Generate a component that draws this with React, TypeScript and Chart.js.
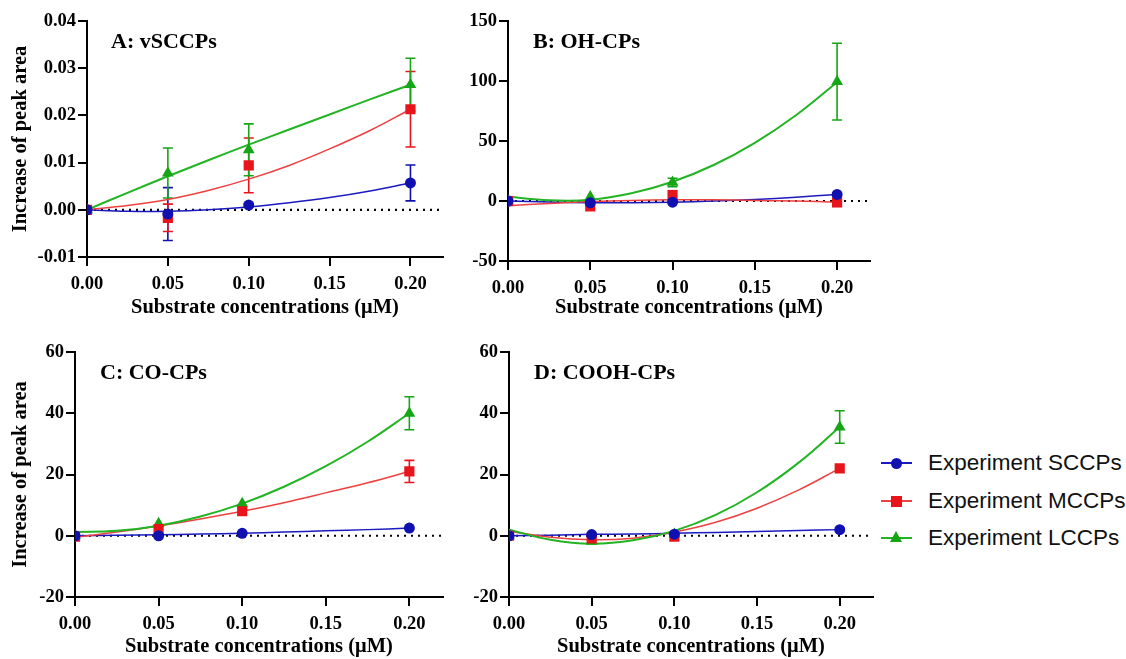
import React, { useEffect, useRef } from "react";
import { Chart, registerables } from "chart.js";
Chart.register(...registerables);

// ---------- shared values ----------
const concentrations = [0, 0.05, 0.1, 0.2];
const fitConcentrations = [0, 0.025, 0.05, 0.075, 0.1, 0.125, 0.15, 0.175, 0.2];
const xTickValues = [0, 0.05, 0.1, 0.15, 0.2];
const xMax = 0.22;
const seriesNames = ["Experiment SCCPs", "Experiment MCCPs", "Experiment LCCPs"];
const xTitle = "Substrate concentrations (μM)";
const yTitle = "Increase of peak area";

// ---------- Panel A: vSCCPs ----------
const aSCCPs = [0, -0.0009, 0.001, 0.0057];
const aSCCPsErr = [0, 0.0056, 0.0003, 0.0038];
const aMCCPs = [0, -0.0017, 0.0094, 0.0213];
const aMCCPsErr = [0, 0.0029, 0.0058, 0.008];
const aLCCPs = [0, 0.0078, 0.0127, 0.0265];
const aLCCPsErr = [0, 0.0053, 0.0055, 0.0056];
const aFitSCCPs = [0, -0.0003, -0.0003, 0.0, 0.0006, 0.0015, 0.0026, 0.004, 0.0057];
const aFitMCCPs = [0, 0.0009, 0.0022, 0.0041, 0.0065, 0.0094, 0.0129, 0.0168, 0.0213];
const aFitLCCPs = [0, 0.0036, 0.0071, 0.0105, 0.0138, 0.017, 0.0202, 0.0234, 0.0265];
const aYTicks = [-0.01, 0, 0.01, 0.02, 0.03, 0.04];

// ---------- Panel B: OH-CPs ----------
const bSCCPs = [0, -1.5, -1, 5.5];
const bSCCPsErr = [0, 0, 0, 0];
const bMCCPs = [0, -4.5, 5, -1.2];
const bMCCPsErr = [0, 0, 0, 0];
const bLCCPs = [0, 3.5, 15.5, 99.5];
const bLCCPsErr = [0, 0, 3.5, 32];
const bFitSCCPs = [0, -0.9, -1.4, -1.4, -1, -0.1, 1.3, 3.2, 5.5];
const bFitMCCPs = [-4, -2, -0.5, 0.5, 1, 1, 0.5, 0, -1];
const bFitLCCPs = [3.5, 0.6, 1, 6.4, 16, 30, 48.5, 71.5, 99];
const bYTicks = [-50, 0, 50, 100, 150];

// ---------- Panel C: CO-CPs ----------
const cSCCPs = [0, 0, 0.8, 2.5];
const cSCCPsErr = [0, 0, 0, 0];
const cMCCPs = [-0.3, 2.2, 8, 21];
const cMCCPsErr = [0, 0, 0, 3.6];
const cLCCPs = [0, 4, 10.5, 40];
const cLCCPsErr = [0, 0, 0, 5.4];
const cFitSCCPs = [0, 0.15, 0.3, 0.55, 0.85, 1.2, 1.6, 2.0, 2.5];
const cFitMCCPs = [-0.5, 1.2, 3.2, 5.5, 8, 10.8, 14, 17.3, 21];
const cFitLCCPs = [1.2, 1.6, 3.3, 6.3, 10.5, 16, 22.7, 30.7, 40];
const cYTicks = [-20, 0, 20, 40, 60];

// ---------- Panel D: COOH-CPs ----------
const dSCCPs = [0, 0.4, 0.5, 2];
const dSCCPsErr = [0, 0, 0, 0];
const dMCCPs = [0, -0.9, -0.3, 22];
const dMCCPsErr = [0, 0, 0, 0];
const dLCCPs = [0, -1.8, 0.5, 35.5];
const dLCCPsErr = [0, 0, 0, 5.3];
const dFitSCCPs = [0, 0.2, 0.45, 0.6, 0.8, 1.1, 1.4, 1.7, 2];
const dFitMCCPs = [1.5, -0.5, -1.3, -0.8, 1.2, 4.4, 9, 14.9, 22];
const dFitLCCPs = [2, -1.3, -2.6, -1.5, 1.6, 6.8, 14.2, 23.8, 35.5];
const dYTicks = [-20, 0, 20, 40, 60];

// ---------- styles ----------
const BLUE = "#1010b0";
const RED = "#e8141c";
const GREEN = "#15a515";
const seriesColors = [BLUE, RED, GREEN];
const fitColors = ["#1a1ac0", "#ee4040", "#22b422"];
const fitWidths = [1.5, 1.5, 2];
const pointStyles = ["circle", "rect", "triangle"];
const pointRadii = [5.5, 7.2, 6.8];
const SERIF = "'Liberation Serif', 'Times New Roman', serif";
const SANS = "'Liberation Sans', Arial, sans-serif";

type PanelDef = {
  label: string;
  left: number;
  top: number;
  width: number;
  height: number;
  yAxisWidth: number;
  xAxisHeight: number;
  padTop: number;
  padRight: number;
  titleX: number;
  titleY: number;
  showYTitle: boolean;
  yTicks: number[];
  yDecimals: number;
  means: number[][];
  errors: number[][];
  fits: number[][];
};

const panels: PanelDef[] = [
  {
    label: "A: vSCCPs", left: 0, top: 0, width: 450, height: 320,
    yAxisWidth: 87, xAxisHeight: 63, padTop: 21, padRight: 7,
    titleX: 111, titleY: 42, showYTitle: true, yTicks: aYTicks, yDecimals: 2,
    means: [aSCCPs, aMCCPs, aLCCPs], errors: [aSCCPsErr, aMCCPsErr, aLCCPsErr],
    fits: [aFitSCCPs, aFitMCCPs, aFitLCCPs],
  },
  {
    label: "B: OH-CPs", left: 430, top: 0, width: 450, height: 320,
    yAxisWidth: 78, xAxisHeight: 59, padTop: 21, padRight: 10,
    titleX: 103, titleY: 42, showYTitle: false, yTicks: bYTicks, yDecimals: 0,
    means: [bSCCPs, bMCCPs, bLCCPs], errors: [bSCCPsErr, bMCCPsErr, bLCCPsErr],
    fits: [bFitSCCPs, bFitMCCPs, bFitLCCPs],
  },
  {
    label: "C: CO-CPs", left: 0, top: 320, width: 450, height: 339,
    yAxisWidth: 75, xAxisHeight: 62, padTop: 32, padRight: 5,
    titleX: 100, titleY: 53, showYTitle: true, yTicks: cYTicks, yDecimals: 0,
    means: [cSCCPs, cMCCPs, cLCCPs], errors: [cSCCPsErr, cMCCPsErr, cLCCPsErr],
    fits: [cFitSCCPs, cFitMCCPs, cFitLCCPs],
  },
  {
    label: "D: COOH-CPs", left: 430, top: 320, width: 450, height: 339,
    yAxisWidth: 79, xAxisHeight: 62, padTop: 32, padRight: 2,
    titleX: 104, titleY: 53, showYTitle: false, yTicks: dYTicks, yDecimals: 0,
    means: [dSCCPs, dMCCPs, dLCCPs], errors: [dSCCPsErr, dMCCPsErr, dLCCPsErr],
    fits: [dFitSCCPs, dFitMCCPs, dFitLCCPs],
  },
];

const errorBarPlugin = {
  id: "errorBars",
  beforeDatasetsDraw(chart: any, _args: any, opts: any) {
    const { ctx } = chart;
    const x = chart.scales.x;
    const y = chart.scales.y;
    ctx.save();
    opts.sets.forEach((s: any) => {
      ctx.strokeStyle = s.color;
      ctx.lineWidth = 1.6;
      s.values.forEach((v: number, i: number) => {
        const e = s.errors[i];
        if (!e) return;
        const px = x.getPixelForValue(concentrations[i]);
        const t = y.getPixelForValue(v + e);
        const b = y.getPixelForValue(v - e);
        ctx.beginPath();
        ctx.moveTo(px, t);
        ctx.lineTo(px, b);
        ctx.moveTo(px - 5, t);
        ctx.lineTo(px + 5, t);
        ctx.moveTo(px - 5, b);
        ctx.lineTo(px + 5, b);
        ctx.stroke();
      });
    });
    ctx.restore();
  },
};

const panelLabelPlugin = {
  id: "panelLabel",
  afterDraw(chart: any, _args: any, opts: any) {
    const { ctx } = chart;
    ctx.save();
    ctx.font = `bold 22px ${SERIF}`;
    ctx.fillStyle = "#000";
    ctx.textBaseline = "middle";
    ctx.textAlign = "left";
    ctx.fillText(opts.text, opts.x, opts.y);
    ctx.restore();
  },
};

function Panel({ p }: { p: PanelDef }) {
  const ref = useRef<HTMLCanvasElement | null>(null);
  useEffect(() => {
    if (!ref.current) return;
    const yMin = p.yTicks[0];
    const yMax = p.yTicks[p.yTicks.length - 1];
    const datasets: any[] = [];
    p.means.forEach((m, si) => {
      datasets.push({
        label: seriesNames[si],
        data: m.map((v, i) => ({ x: concentrations[i], y: v })),
        showLine: false,
        pointStyle: pointStyles[si],
        pointRadius: pointRadii[si],
        backgroundColor: seriesColors[si],
        borderColor: seriesColors[si],
        borderWidth: 0,
        order: si,
      });
    });
    p.fits.forEach((f, si) => {
      datasets.push({
        label: seriesNames[si] + " fit",
        data: f.map((v, i) => ({ x: fitConcentrations[i], y: v })),
        showLine: true,
        pointRadius: 0,
        borderColor: fitColors[si],
        borderWidth: fitWidths[si],
        tension: 0.4,
        fill: false,
        order: 10 + (2 - si),
      });
    });
    datasets.push({
      label: "zero",
      data: [{ x: 0, y: 0 }, { x: xMax, y: 0 }],
      showLine: true,
      pointRadius: 0,
      borderColor: "#000",
      borderWidth: 2.2,
      borderDash: [2, 5],
      order: 50,
    });

    const tickFont = { family: SERIF, weight: "bold" as const, size: 18.5 };
    const titleFont = { family: SERIF, weight: "bold" as const, size: 20.5 };

    const chart = new Chart(ref.current, {
      type: "scatter",
      data: { datasets },
      plugins: [errorBarPlugin, panelLabelPlugin],
      options: {
        animation: false,
        responsive: false,
        maintainAspectRatio: false,
        layout: { padding: { top: p.padTop, right: p.padRight, left: 0, bottom: 0 } },
        plugins: {
          legend: { display: false },
          tooltip: { enabled: false },
          errorBars: {
            sets: p.means.map((m, si) => ({ color: seriesColors[si], values: m, errors: p.errors[si] })),
          },
          panelLabel: { text: p.label, x: p.titleX, y: p.titleY },
        } as any,
        scales: {
          x: {
            type: "linear",
            min: 0,
            max: xMax,
            afterBuildTicks: (s: any) => {
              s.ticks = xTickValues.map((v) => ({ value: v }));
            },
            afterFit: (s: any) => {
              s.height = p.xAxisHeight;
            },
            grid: { drawOnChartArea: false, drawTicks: true, tickLength: 9, color: "#000", lineWidth: 2 },
            border: { display: true, color: "#000", width: 2 },
            ticks: {
              color: "#000",
              font: tickFont,
              padding: 7,
              maxRotation: 0,
              autoSkip: false,
              callback: (v: any) => Number(v).toFixed(2),
            },
            title: { display: true, text: xTitle, color: "#000", font: titleFont, padding: { top: 0, bottom: 0 } },
          },
          y: {
            type: "linear",
            min: yMin,
            max: yMax,
            afterBuildTicks: (s: any) => {
              s.ticks = p.yTicks.map((v) => ({ value: v }));
            },
            afterFit: (s: any) => {
              s.width = p.yAxisWidth;
            },
            grid: { drawOnChartArea: false, drawTicks: true, tickLength: 9, color: "#000", lineWidth: 2 },
            border: { display: true, color: "#000", width: 2 },
            ticks: {
              color: "#000",
              font: tickFont,
              padding: 2,
              autoSkip: false,
              callback: (v: any) => Number(v).toFixed(p.yDecimals),
            },
            title: {
              display: p.showYTitle,
              text: yTitle,
              color: "#000",
              font: titleFont,
              padding: { top: 8, bottom: 0 },
            },
          },
        },
      },
    });
    return () => chart.destroy();
  }, [p]);
  return (
    <canvas
      ref={ref}
      width={p.width}
      height={p.height}
      style={{ position: "absolute", left: p.left, top: p.top, width: p.width, height: p.height, display: "block" }}
    />
  );
}

function LegendMarker({ index }: { index: number }) {
  const color = seriesColors[index];
  let shape: React.ReactNode;
  if (index === 0) {
    shape = <div style={{ position: "absolute", left: 10, top: -5.5, width: 11, height: 11, borderRadius: "50%", background: color }} />;
  } else if (index === 1) {
    shape = <div style={{ position: "absolute", left: 10, top: -5.5, width: 11, height: 11, background: color }} />;
  } else {
    shape = (
      <div
        style={{
          position: "absolute",
          left: 9,
          top: -7,
          width: 0,
          height: 0,
          borderLeft: "6.5px solid transparent",
          borderRight: "6.5px solid transparent",
          borderBottom: `11px solid ${color}`,
        }}
      />
    );
  }
  return (
    <div style={{ position: "absolute", left: 0, top: 0, width: 31, height: 0 }}>
      <div style={{ position: "absolute", left: 0, top: -0.75, width: 31, height: 1.5, background: fitColors[index] }} />
      {shape}
    </div>
  );
}

export default function App() {
  const legendRows = [463, 501, 538];
  return (
    <div style={{ position: "absolute", left: 0, top: 0, width: 1126, height: 659, background: "#fff", overflow: "hidden" }}>
      {panels.map((p) => (
        <Panel key={p.label} p={p} />
      ))}
      {seriesNames.map((name, i) => (
        <div key={name} style={{ position: "absolute", left: 881, top: legendRows[i], height: 0 }}>
          <LegendMarker index={i} />
          <div
            style={{
              position: "absolute",
              left: 47,
              top: -14,
              fontFamily: SANS,
              fontSize: 22.5,
              lineHeight: "28px",
              whiteSpace: "nowrap",
              color: "#111",
            }}
          >
            {name}
          </div>
        </div>
      ))}
    </div>
  );
}
